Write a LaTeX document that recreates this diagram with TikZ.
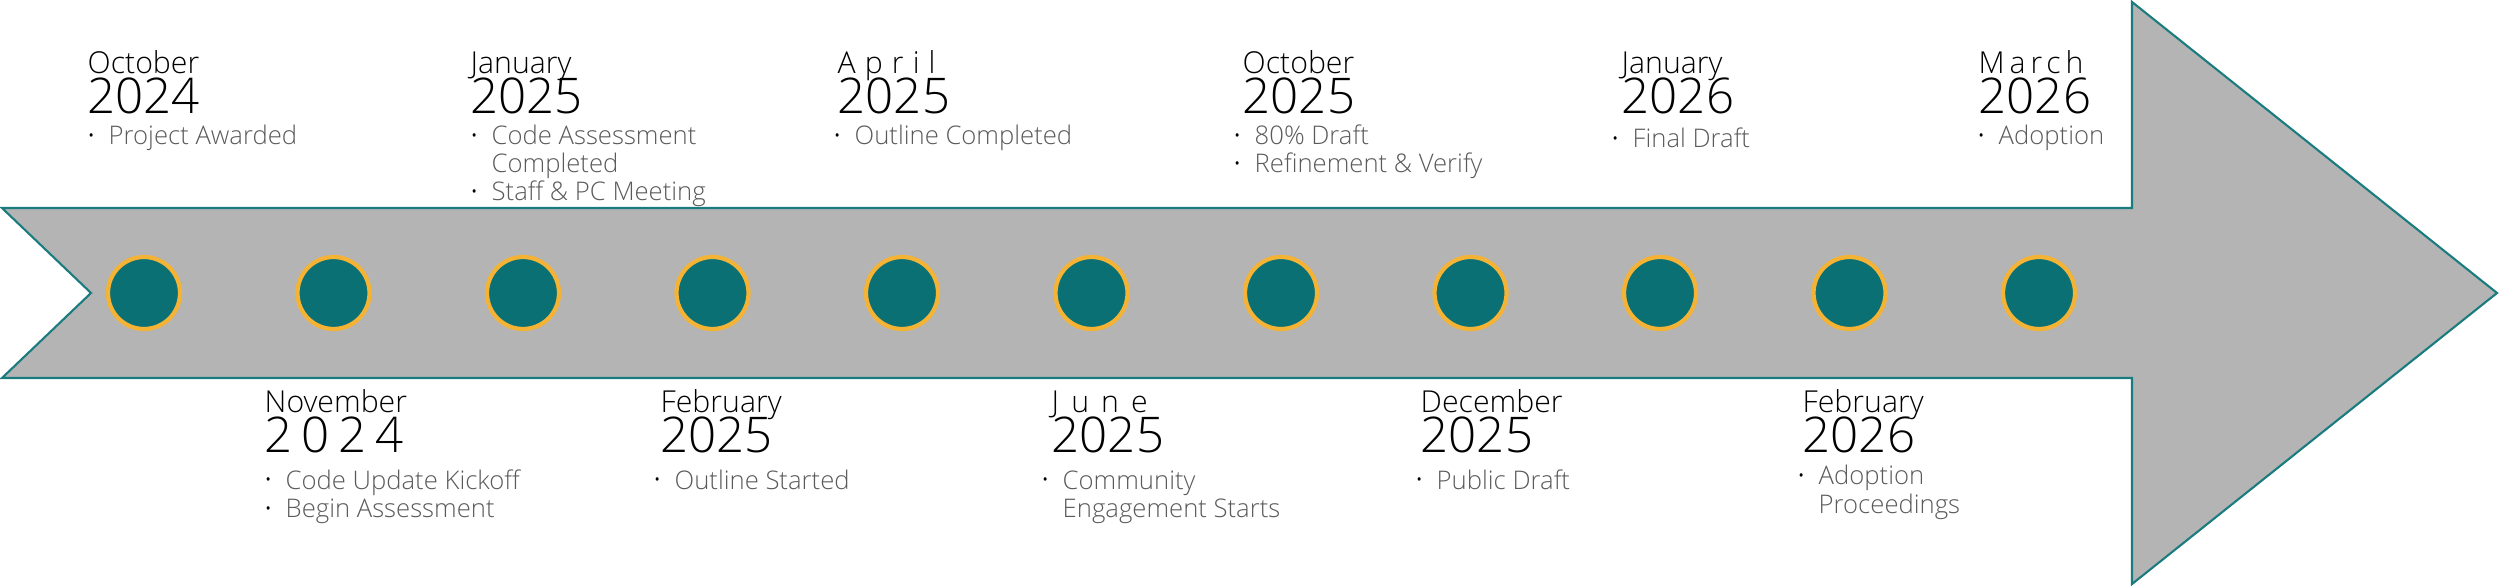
\documentclass[tikz,border=0pt]{standalone}
\usepackage{fontspec}
\IfFontExistsTF{Open Sans Light}{\setmainfont{Open Sans Light}}{\setmainfont{Open Sans}}
\usetikzlibrary{positioning}
\definecolor{arrowGray}{HTML}{B4B4B4}
\definecolor{edgeTeal}{HTML}{1B7C80}
\definecolor{dotTeal}{HTML}{0B7073}
\definecolor{ringOrange}{HTML}{F5B335}
\definecolor{itemGray}{HTML}{5A5A5A}
\newcommand{\bul}{\makebox[0.21cm][l]{\raisebox{0.8pt}{\color{black}\fontsize{5.5}{5.5}\selectfont\textbullet}}}

\begin{document}
\begin{tikzpicture}[
        x=1cm, y=1cm,
        stone/.style={
                circle,
                draw=ringOrange,
                fill=dotTeal,
                line width=1.2pt,
                minimum size=0.72cm,
                inner sep=0pt
            },
        month/.style={anchor=base west, inner sep=0pt, font=\fontsize{8.6}{10}\selectfont},
        year/.style={anchor=base west, inner sep=0pt, font=\fontsize{14}{16}\selectfont},
        item/.style={anchor=base west, inner sep=0pt, text=itemGray, font=\fontsize{7.3}{8}\selectfont},
        spaced/.style={font=\fontsize{8.6}{10}\selectfont\addfontfeature{LetterSpace=#1}}
    ]
    \useasboundingbox (0,0) rectangle (25,5.86);

    \draw[edgeTeal, fill=arrowGray, line width=0.6pt]
        (0.02,3.78) -- (21.32,3.78) -- (21.32,5.84) -- (24.97,2.93)
        -- (21.32,0.02) -- (21.32,2.08) -- (0.02,2.08) -- (0.91,2.93) -- cycle;

    \foreach \i in {0,...,10}
        \node[stone] (s\i) at ({1.44+1.895*\i}, 2.93) {};

    \node[month] (octAm) at (0.87,5.12) {October};
    \node[year] (octAy) at (0.87,4.72) {2024};
    \node[item] (octAa) at (0.87,4.41) {\bul Project Awarded};

    \node[month] (janAm) at (4.70,5.12) {January};
    \node[year] (janAy) at (4.70,4.72) {2025};
    \node[item] (janAa) at (4.70,4.41) {\bul Code Assessment};
    \node[item] (janAb) at (4.91,4.13) {Completed};
    \node[item] (janAc) at (4.70,3.85) {\bul Staff \& PC Meeting};

    \node[month, spaced=30] (aprAm) at (8.37,5.12) {April};
    \node[year] (aprAy) at (8.37,4.72) {2025};
    \node[item] (aprAa) at (8.33,4.41) {\bul Outline Completed};

    \node[month] (octBm) at (12.42,5.12) {October};
    \node[year] (octBy) at (12.42,4.72) {2025};
    \node[item] (octBa) at (12.33,4.41) {\bul 80\% Draft};
    \node[item] (octBb) at (12.33,4.13) {\bul Refinement \& Verify};

    \node[month] (janBm) at (16.21,5.12) {January};
    \node[year] (janBy) at (16.21,4.72) {2026};
    \node[item] (janBa) at (16.11,4.38) {\bul Final Draft};

    \node[month, spaced=16] (marBm) at (19.78,5.12) {March};
    \node[year] (marBy) at (19.78,4.72) {2026};
    \node[item] (marBa) at (19.77,4.41) {\bul Adoption};

    \node[month] (novAm) at (2.64,1.73) {November};
    \node[year, font=\fontsize{14}{16}\selectfont\addfontfeature{LetterSpace=18}] (novAy) at (2.64,1.33) {2024};
    \node[item] (novAa) at (2.64,0.97) {\bul Code Update Kickoff};
    \node[item] (novAb) at (2.64,0.68) {\bul Begin Assessment};

    \node[month] (febAm) at (6.60,1.73) {February};
    \node[year] (febAy) at (6.60,1.33) {2025};
    \node[item] (febAa) at (6.53,0.97) {\bul Outline Started};

    \node[month, spaced=40] (junAm) at (10.51,1.73) {June};
    \node[year] (junAy) at (10.51,1.33) {2025};
    \node[item] (junAa) at (10.41,0.97) {\bul Community};
    \node[item] (junAb) at (10.62,0.68) {Engagement Starts};

    \node[month] (decAm) at (14.20,1.73) {December};
    \node[year] (decAy) at (14.20,1.33) {2025};
    \node[item] (decAa) at (14.15,0.97) {\bul Public Draft};

    \node[month] (febBm) at (18.02,1.73) {February};
    \node[year] (febBy) at (18.02,1.33) {2026};
    \node[item] (febBa) at (17.97,1.01) {\bul Adoption};
    \node[item] (febBb) at (18.18,0.72) {Proceedings};
\end{tikzpicture}
\end{document}
